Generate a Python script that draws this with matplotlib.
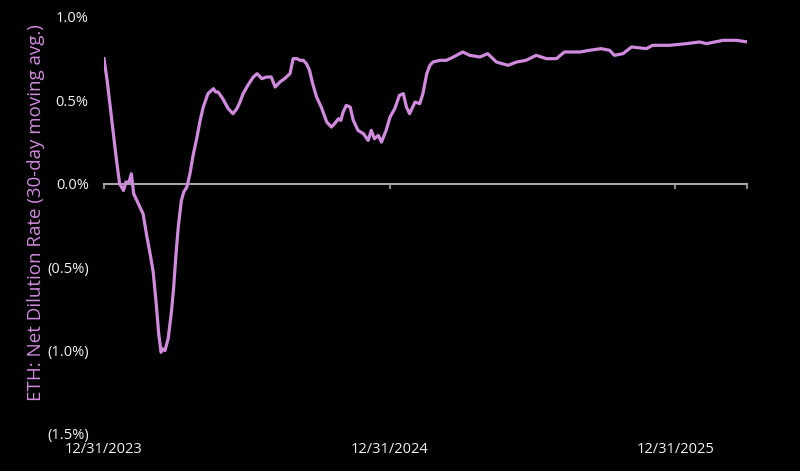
import datetime as dt
import matplotlib
matplotlib.use("Agg")
import matplotlib.pyplot as plt
import matplotlib.dates as mdates
from matplotlib.ticker import FuncFormatter, FixedLocator

start_date = dt.date(2023, 12, 31)
days_since_start = [0, 4, 8, 12, 16, 20, 25, 28, 32, 35, 38, 44, 50, 55, 59, 63, 67, 70, 73, 75,
                    78, 82, 86, 89, 92, 95, 99, 102, 106, 110, 114, 119, 123, 127, 133, 140, 143, 146,
                    152, 159, 165, 170, 174, 178, 184, 191, 196, 202, 208, 214, 219, 225, 231, 238,
                    242, 247, 251, 255, 259, 263, 267, 272, 278, 285, 291, 295, 300, 303, 306, 310,
                    315, 319, 325, 332, 338, 342, 346, 351, 355, 361, 366, 372, 378, 383, 387, 391,
                    398, 404, 408, 413, 417, 421, 430, 438, 447, 459, 468, 481, 491, 502, 517, 528,
                    540, 553, 566, 579, 589, 609, 621, 636, 647, 653, 664, 675, 694, 702, 724, 745,
                    762, 771, 792, 809, 824]
dilution_pct = [0.75, 0.62, 0.46, 0.30, 0.14, 0.00, -0.04, 0.01, 0.01, 0.06, -0.06, -0.12, -0.18,
                -0.32, -0.42, -0.53, -0.73, -0.90, -1.01, -0.99, -1.00, -0.93, -0.78, -0.63, -0.43,
                -0.26, -0.10, -0.05, -0.02, 0.06, 0.17, 0.28, 0.38, 0.46, 0.54, 0.57, 0.55, 0.55,
                0.51, 0.45, 0.42, 0.45, 0.49, 0.54, 0.59, 0.64, 0.66, 0.63, 0.64, 0.64, 0.58, 0.61,
                0.63, 0.66, 0.75, 0.75, 0.74, 0.74, 0.72, 0.68, 0.60, 0.52, 0.46, 0.37, 0.34, 0.36,
                0.39, 0.38, 0.43, 0.47, 0.46, 0.38, 0.32, 0.30, 0.26, 0.32, 0.27, 0.29, 0.25, 0.32,
                0.40, 0.45, 0.53, 0.54, 0.46, 0.42, 0.49, 0.48, 0.54, 0.66, 0.71, 0.73, 0.74, 0.74,
                0.76, 0.79, 0.77, 0.76, 0.78, 0.73, 0.71, 0.73, 0.74, 0.77, 0.75, 0.75, 0.79, 0.79,
                0.80, 0.81, 0.80, 0.77, 0.78, 0.82, 0.81, 0.83, 0.83, 0.84, 0.85, 0.84, 0.86, 0.86,
                0.85]
x_tick_labels = ["12/31/2023", "12/31/2024", "12/31/2025"]
y_ticks = [-1.5, -1.0, -0.5, 0.0, 0.5, 1.0]
y_label = "ETH: Net Dilution Rate (30-day moving avg.)"

dates = [start_date + dt.timedelta(days=d) for d in days_since_start]
x_ticks = [dt.datetime.strptime(s, "%m/%d/%Y").date() for s in x_tick_labels]

plt.rcParams['font.family'] = ['Open Sans', 'DejaVu Sans']

fig = plt.figure(figsize=(8, 4.71), dpi=100, facecolor='black')
ax = fig.add_axes([0.13, 0.0786, 0.804, 0.8854], facecolor='black')

ax.plot(dates, dilution_pct, color='#d08ade', lw=2.3, solid_joinstyle='round', zorder=3)

ax.set_ylim(-1.5, 1.0)
ax.set_xlim(start_date, start_date + dt.timedelta(days=823))

for s in ['top', 'right', 'left']:
    ax.spines[s].set_visible(False)
ax.spines['bottom'].set_position(('data', 0))
ax.spines['bottom'].set_color('#a6a6a6')
ax.spines['bottom'].set_linewidth(1.5)
ax.spines['bottom'].set_zorder(2)

tick_locs = [mdates.date2num(d) for d in x_ticks] + [mdates.date2num(start_date + dt.timedelta(days=823))]
ax.xaxis.set_major_locator(FixedLocator(tick_locs))
ax.tick_params(axis='x', direction='out', length=3.5, width=1.2, color='#a6a6a6', labelbottom=False)

sec = ax.secondary_xaxis('bottom')
sec.xaxis.set_major_locator(FixedLocator([mdates.date2num(d) for d in x_ticks]))
sec.xaxis.set_major_formatter(FuncFormatter(lambda v, p: mdates.num2date(v).strftime("%m/%d/%Y")))
sec.spines['bottom'].set_visible(False)
sec.tick_params(axis='x', length=0, pad=6, labelsize=10.5, labelcolor='#f2f2f2')

def yfmt(v, p):
    if v < 0:
        return "({:.1f}%)".format(-v)
    return "{:.1f}%".format(v)

ax.yaxis.set_major_locator(FixedLocator(y_ticks))
ax.yaxis.set_major_formatter(FuncFormatter(yfmt))
ax.tick_params(axis='y', length=0, pad=11, labelsize=10.5, labelcolor='#f2f2f2')

ax.set_ylabel(y_label, color='#d08ade', fontsize=13.5)
ax.yaxis.set_label_coords(-0.092, 0.53)

fig.savefig('out.png', dpi=100, facecolor='black')
